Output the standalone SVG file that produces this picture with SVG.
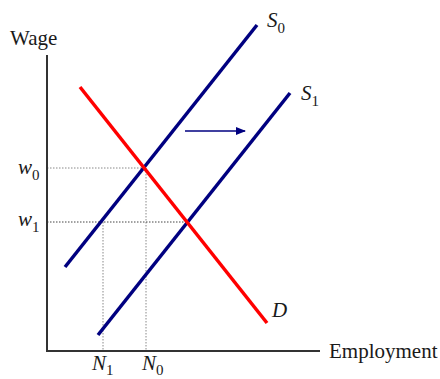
<svg xmlns="http://www.w3.org/2000/svg" width="440" height="379" viewBox="0 0 440 379">
<defs>
<style>
text{font-family:"Liberation Serif","Times New Roman",serif;fill:#1a1a1a}
.lbl{font-size:21px}
.it{font-style:italic;font-size:21px}
.sub{font-size:15px;font-style:normal}
.s{stroke:#000080;stroke-width:3.5;fill:none}
.d{stroke:#ff0000;stroke-width:3.5;fill:none}
.dot{stroke:#888;stroke-width:1;stroke-dasharray:1.5 1.5;fill:none}
.dotk{stroke:#444;stroke-width:1;stroke-dasharray:1.5 1.5;fill:none}
.ax{stroke:#333;stroke-width:2;fill:none}
</style>
<marker id="ah" markerWidth="10" markerHeight="8" refX="9" refY="4" orient="auto" markerUnits="userSpaceOnUse">
<path d="M0,0 L10,4 L0,8 Z" fill="#000080"/>
</marker>
</defs>
<rect width="440" height="379" fill="#fff"/>
<g id="connectors">
<path class="dot" d="M47,168 H146 V351"/>
<path class="dotk" d="M47,222 H187"/>
<path class="dot" d="M103,222 V351"/>
<line x1="185" y1="131" x2="245" y2="131" stroke="#000080" stroke-width="1.5" marker-end="url(#ah)"/>
</g>
<g id="axes">
<path class="ax" d="M47,55 V351 H320"/>
<text class="lbl" x="10" y="45">Wage</text>
<text class="lbl" x="329" y="358">Employment</text>
</g>
<g id="S0">
<line class="s" x1="65" y1="267" x2="257" y2="25"/>
<text class="it" x="267" y="27">S<tspan class="sub" dy="6">0</tspan></text>
</g>
<g id="S1">
<line class="s" x1="98" y1="335" x2="290" y2="93"/>
<text class="it" x="301" y="100">S<tspan class="sub" dy="6">1</tspan></text>
</g>
<g id="D">
<line class="d" x1="80" y1="87" x2="267" y2="323"/>
<text class="it" x="272" y="317">D</text>
</g>
<g id="w0">
<text class="it" x="18" y="174">w<tspan class="sub" dy="6">0</tspan></text>
</g>
<g id="w1">
<text class="it" x="18" y="226">w<tspan class="sub" dy="6">1</tspan></text>
</g>
<g id="N1">
<text class="it" x="92" y="370">N<tspan class="sub" dy="5">1</tspan></text>
</g>
<g id="N0">
<text class="it" x="142" y="370">N<tspan class="sub" dy="5">0</tspan></text>
</g>
</svg>
